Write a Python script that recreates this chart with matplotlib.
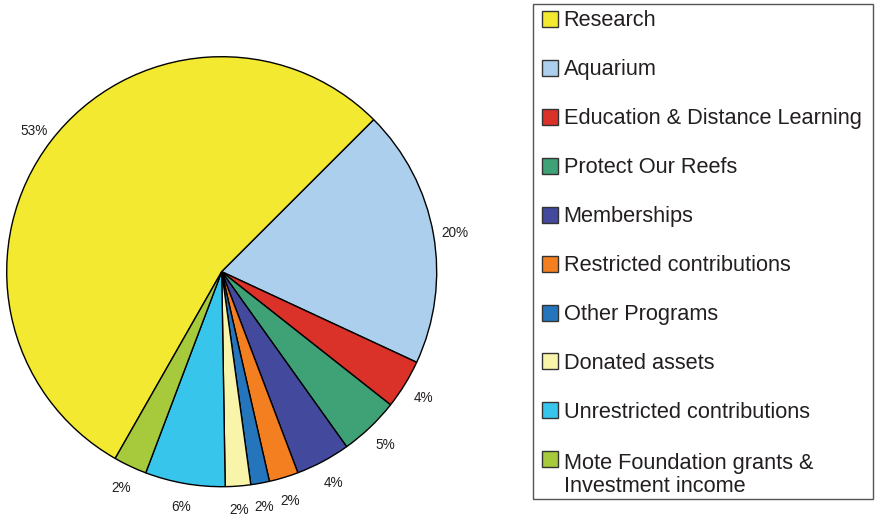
import numpy as np
import matplotlib
matplotlib.use('Agg')
import matplotlib.pyplot as plt
from matplotlib.patches import Rectangle

plt.rcParams['font.family'] = ['Liberation Sans', 'DejaVu Sans']

# slice shares (clockwise from Research)
categories = ['Research', 'Aquarium', 'Education & Distance Learning',
              'Protect Our Reefs', 'Memberships', 'Restricted contributions',
              'Other Programs', 'Donated assets', 'Unrestricted contributions',
              'Mote Foundation grants &\nInvestment income']
shares = [54.2, 19.4, 3.7, 4.5, 4.1, 2.2, 1.4, 1.9, 6.0, 2.5]
pct_labels = ['53%', '20%', '4%', '5%', '4%', '2%', '2%', '2%', '6%', '2%']
colors = ['#F2E930', '#ABCFEC', '#DA3129', '#3FA176', '#43499D',
          '#F47F21', '#2475BB', '#F8F4A9', '#38C5EC', '#A6CA3C']

W, H = 878, 517
fig = plt.figure(figsize=(W / 100, H / 100), dpi=100)

# pie axes: centre (221.7, 271.7) px, radius 215 px
cx, cy, r = 221.7, 271.7, 215
ax = fig.add_axes([(cx - r) / W, (H - cy - r) / H, 2 * r / W, 2 * r / H])
wedges, _ = ax.pie(shares, colors=colors, startangle=240.3, counterclock=False,
                   radius=1, wedgeprops=dict(edgecolor='black', linewidth=1.0))
ax.set_xlim(-1, 1)
ax.set_ylim(-1, 1)
ax.set_aspect('equal')
ax.axis('off')

for w, lab in zip(wedges, pct_labels):
    th = np.deg2rad((w.theta1 + w.theta2) / 2)
    ax.text(1.1 * np.cos(th), 1.1 * np.sin(th) - 0.012, lab, fontsize=9.8,
            ha='center', va='center', color='#231F20', clip_on=False)

# legend box drawn in pixel terms
def px(x, y):
    return x / W, 1 - y / H

x0, y0 = px(533, 499)
x1, y1 = px(873, 4)
fig.patches.append(Rectangle((x0, y0), x1 - x0, y1 - y0, transform=fig.transFigure,
                             facecolor='white', edgecolor='#555555', linewidth=1.0))
for i, (name, col) in enumerate(zip(categories, colors)):
    top = 10.7 + i * 48.97
    sx, sy = px(542, top + 16)
    fig.patches.append(Rectangle((sx, sy), 16 / W, 16 / H, transform=fig.transFigure,
                                 facecolor=col, edgecolor='#333333', linewidth=1.0))
    # baseline of the last line (matplotlib aligns multi-line text on it)
    nlines = name.count('\n') + 1
    tx, ty = px(563.5, top + 15.5 + 25 * (nlines - 1))
    fig.text(tx, ty, name, fontsize=15.7, ha='left', va='baseline',
             color='#231F20', linespacing=1.15)

fig.savefig('out.png', dpi=100)
